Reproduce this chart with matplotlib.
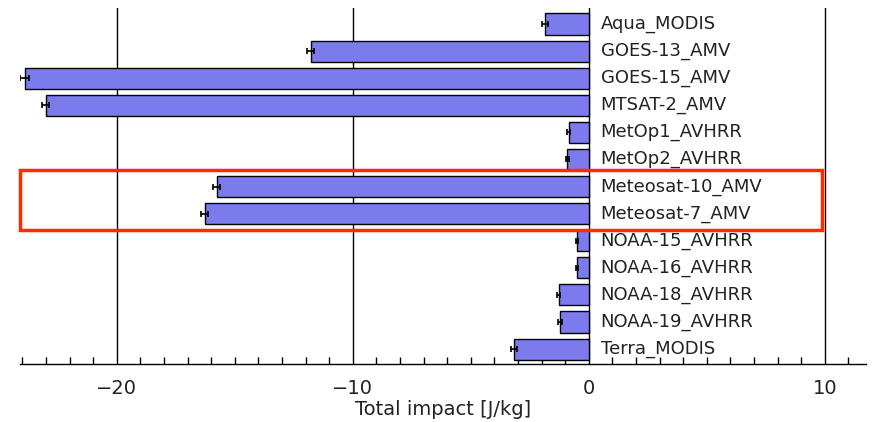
import matplotlib.pyplot as plt
import numpy as np
from matplotlib.patches import Rectangle
from matplotlib.ticker import MultipleLocator

### data
sensors = ['Aqua_MODIS', 'GOES-13_AMV', 'GOES-15_AMV', 'MTSAT-2_AMV',
           'MetOp1_AVHRR', 'MetOp2_AVHRR', 'Meteosat-10_AMV', 'Meteosat-7_AMV',
           'NOAA-15_AVHRR', 'NOAA-16_AVHRR', 'NOAA-18_AVHRR', 'NOAA-19_AVHRR',
           'Terra_MODIS']
impact = [-1.86, -11.78, -23.9, -23.0, -0.85, -0.9, -15.76, -16.27,
          -0.5, -0.5, -1.27, -1.22, -3.18]
impact_err = [0.12, 0.15, 0.2, 0.15, 0.07, 0.05, 0.15, 0.15,
              0.04, 0.03, 0.06, 0.07, 0.12]
highlight = ['Meteosat-10_AMV', 'Meteosat-7_AMV']

fig = plt.figure(figsize=(8.76, 4.22), dpi=100)
ax = fig.add_axes([20 / 876, 1 - 364 / 422, 846 / 876, 356 / 422])

y = np.arange(len(sensors))
ax.barh(y, impact, height=0.78, color='#7b7bee', edgecolor='black', linewidth=1.0, zorder=3)
ax.errorbar(impact, y, xerr=impact_err, fmt='none', ecolor='black',
            elinewidth=1.2, capsize=2.5, capthick=1.2, zorder=4)

### vertical grid lines at major ticks
for gx in [-20, -10, 0, 10]:
    ax.axvline(gx, color='black', linewidth=1.0, zorder=1)

### sensor names right of zero
for yi, name in zip(y, sensors):
    ax.text(0.5, yi, name, va='center', ha='left', fontsize=13, color='#222222', zorder=5)

### red box around the Meteosat rows
idx = [sensors.index(s) for s in highlight]
ax.add_patch(Rectangle((-24.1, min(idx) - 0.6), 24.1 + 9.87, max(idx) - min(idx) + 1.2,
                       fill=False, edgecolor='#ff2a00', linewidth=2.5, zorder=6, clip_on=False))

ax.set_xlim(-24.1, 11.75)
ax.set_ylim(12.55, -0.59)
for s in ['left', 'right', 'top']:
    ax.spines[s].set_visible(False)
ax.spines['bottom'].set_linewidth(1.0)
ax.set_yticks([])
ax.xaxis.set_major_locator(MultipleLocator(10))
ax.xaxis.set_minor_locator(MultipleLocator(1))
ax.tick_params(axis='x', which='major', direction='in', length=0, labelsize=14,
               labelcolor='#222222', pad=11)
ax.tick_params(axis='x', which='minor', direction='in', length=5, width=1)
ax.set_xticklabels([], minor=True)
ax.xaxis.set_major_formatter(plt.FuncFormatter(lambda v, p: f'{v:g}'.replace('-', '\u2212')))
ax.set_xlabel('Total impact [J/kg]', fontsize=14, color='#222222', labelpad=1)

fig.savefig('out.png', dpi=100)
